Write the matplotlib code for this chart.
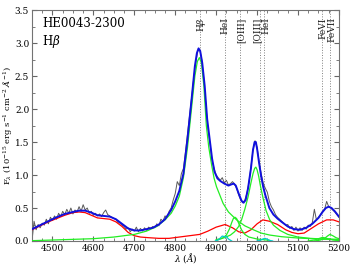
import numpy as np
import matplotlib
matplotlib.use('Agg')
import matplotlib.pyplot as plt
from matplotlib.ticker import MultipleLocator

plt.rcParams['font.family'] = ['DejaVu Serif']
plt.rcParams['mathtext.fontset'] = 'dejavuserif'

# observed spectrum (5 A sampling)
obs_wave = np.arange(4450, 5201, 5)
obs_flux = [
    0.00, 0.30, 0.17, 0.25, 0.20, 0.27, 0.24, 0.33, 0.26, 0.36,
    0.31, 0.38, 0.33, 0.42, 0.37, 0.45, 0.40, 0.48, 0.42, 0.50,
    0.41, 0.47, 0.44, 0.52, 0.45, 0.55, 0.47, 0.50, 0.42, 0.45,
    0.39, 0.42, 0.38, 0.41, 0.37, 0.43, 0.47, 0.40, 0.38, 0.36,
    0.34, 0.33, 0.28, 0.27, 0.24, 0.22, 0.18, 0.20, 0.14, 0.18,
    0.15, 0.21, 0.14, 0.19, 0.15, 0.20, 0.16, 0.21, 0.19, 0.22,
    0.20, 0.26, 0.23, 0.33, 0.30, 0.38, 0.36, 0.45, 0.50, 0.62,
    0.72, 0.90, 0.84, 1.02, 1.10, 1.35, 1.62, 1.90, 2.18, 2.45,
    2.70, 2.88, 2.90, 2.74, 2.45, 2.05, 1.70, 1.48, 1.22, 1.10,
    1.00, 0.96, 0.92, 0.96, 0.88, 0.92, 0.85, 0.87, 0.90, 0.86,
    0.80, 0.70, 0.62, 0.58, 0.62, 0.72, 0.88, 1.12, 1.38, 1.52,
    1.42, 1.20, 1.02, 0.88, 0.80, 0.74, 0.60, 0.52, 0.47, 0.40,
    0.36, 0.33, 0.30, 0.27, 0.24, 0.25, 0.19, 0.22, 0.16, 0.21,
    0.15, 0.20, 0.16, 0.21, 0.18, 0.24, 0.22, 0.28, 0.48, 0.32,
    0.36, 0.40, 0.45, 0.48, 0.60, 0.52, 0.50, 0.47, 0.44, 0.40,
    0.36,
]

# total model
fit_wave = [4450, 4470, 4490, 4510, 4530, 4550, 4565, 4580, 4595, 4610,
            4625, 4640, 4655, 4670, 4685, 4700, 4715, 4730, 4745, 4760,
            4775, 4790, 4800, 4810, 4820, 4830, 4840, 4848, 4853, 4857,
            4861, 4866, 4872, 4878, 4884, 4890, 4896, 4903, 4910, 4920,
            4930, 4938, 4943, 4948, 4955, 4962, 4967, 4972, 4978, 4985,
            4990, 4994, 4997, 5000, 5005, 5010, 5015, 5020, 5030, 5040,
            5050, 5060, 5075, 5090, 5105, 5120, 5135, 5150, 5160, 5168,
            5175, 5182, 5190, 5200]
fit_flux = [0.18, 0.24, 0.30, 0.36, 0.41, 0.44, 0.46, 0.46, 0.43, 0.39,
            0.38, 0.37, 0.33, 0.26, 0.19, 0.16, 0.16, 0.18, 0.20, 0.25,
            0.33, 0.47, 0.60, 0.76, 1.02, 1.55, 2.15, 2.65, 2.85, 2.92,
            2.88, 2.70, 2.35, 1.85, 1.55, 1.25, 1.05, 0.95, 0.91, 0.87,
            0.84, 0.86, 0.87, 0.84, 0.72, 0.61, 0.58, 0.62, 0.80, 1.10,
            1.38, 1.50, 1.50, 1.40, 1.18, 0.98, 0.82, 0.70, 0.50, 0.40,
            0.34, 0.29, 0.22, 0.18, 0.17, 0.20, 0.26, 0.35, 0.44, 0.50,
            0.52, 0.50, 0.45, 0.37]

# FeII template
fe_wave = [4450, 4470, 4490, 4510, 4530, 4550, 4565, 4580, 4595, 4610,
           4625, 4640, 4655, 4670, 4685, 4700, 4715, 4735, 4760, 4785,
           4810, 4835, 4860, 4880, 4900, 4922, 4940, 4955, 4970, 4985,
           5000, 5014, 5030, 5050, 5070, 5085, 5100, 5115, 5130, 5150,
           5170, 5186, 5200]
fe_flux = [0.17, 0.23, 0.29, 0.34, 0.39, 0.43, 0.44, 0.43, 0.39, 0.35,
           0.34, 0.33, 0.29, 0.22, 0.13, 0.08, 0.06, 0.05, 0.04, 0.04,
           0.06, 0.08, 0.10, 0.15, 0.21, 0.25, 0.20, 0.14, 0.12, 0.17,
           0.26, 0.32, 0.30, 0.25, 0.17, 0.13, 0.11, 0.12, 0.18, 0.26,
           0.32, 0.32, 0.29]

# broad Hbeta
hb_wave = [4450, 4500, 4550, 4600, 4650, 4700, 4730, 4755, 4775, 4790,
           4800, 4810, 4820, 4830, 4840, 4848, 4854, 4859, 4864, 4870,
           4876, 4882, 4889, 4895, 4901, 4910, 4917, 4930, 4950, 4970,
           4991, 5010, 5031, 5060, 5100, 5150, 5200]
hb_flux = [0.005, 0.015, 0.025, 0.035, 0.06, 0.10, 0.15, 0.22, 0.32, 0.42,
           0.53, 0.68, 0.96, 1.42, 2.02, 2.50, 2.72, 2.78, 2.70, 2.35,
           1.75, 1.42, 1.15, 0.95, 0.82, 0.68, 0.57, 0.44, 0.32, 0.23,
           0.17, 0.12, 0.09, 0.065, 0.045, 0.03, 0.025]

# [OIII] 5007
o3b_wave = [4900, 4920, 4935, 4945, 4955, 4962, 4970, 4978, 4985, 4990,
            4994, 4997, 5000, 5004, 5008, 5015, 5022, 5031, 5040, 5056,
            5075, 5100, 5130, 5160, 5200]
o3b_flux = [0.02, 0.05, 0.09, 0.14, 0.22, 0.32, 0.48, 0.67, 0.88, 1.02,
            1.10, 1.12, 1.08, 0.98, 0.84, 0.64, 0.46, 0.32, 0.24, 0.16,
            0.10, 0.06, 0.04, 0.03, 0.02]

# [OIII] 4959
o3a_wave = [4900, 4915, 4925, 4933, 4938, 4942, 4946, 4950, 4955, 4962,
            4970, 4980, 5000, 5030]
o3a_flux = [0.01, 0.04, 0.09, 0.19, 0.28, 0.34, 0.36, 0.34, 0.27, 0.17,
            0.10, 0.06, 0.03, 0.01]

# FeVI / FeVII components
fe6_wave = [5125, 5140, 5150, 5160, 5170, 5185, 5200]
fe6_flux = [0.0, 0.015, 0.035, 0.055, 0.04, 0.015, 0.005]
fe7_wave = [5140, 5155, 5165, 5172, 5178, 5185, 5193, 5200]
fe7_flux = [0.0, 0.015, 0.04, 0.075, 0.10, 0.08, 0.05, 0.035]

# HeI components
he1_wave = [4898, 4906, 4911, 4915, 4918, 4921, 4925, 4930, 4938]
he1_flux = [0.0, 0.02, 0.05, 0.075, 0.07, 0.06, 0.07, 0.03, 0.0]
he2_wave = [5000, 5008, 5014, 5019, 5024, 5030, 5038]
he2_flux = [0.0, 0.01, 0.03, 0.04, 0.03, 0.01, 0.0]

# marked lines
line_wave = [4861, 4922, 4959, 5007, 5016, 5159, 5177]
line_names = [r'H$\beta$', 'HeI', '[OIII]', '[OIII]', 'HeI', 'FeVI', 'FeVII']
label_shift = [2, 0, 2, -6, 6, 2, 6]

fig = plt.figure(figsize=(3.54, 2.66), dpi=100)
ax = fig.add_axes([0.0904, 0.094, 0.867, 0.868])

for w, name, dx in zip(line_wave, line_names, label_shift):
    ax.axvline(w, color='0.5', ls=':', lw=0.7, zorder=1)
    ax.text(w + dx, 3.39, name, rotation=90, ha='center', va='top',
            fontsize=6.5, color='0.1')

ax.plot(obs_wave, obs_flux, color='0.35', lw=0.7, zorder=2)
ax.plot(fe_wave, fe_flux, color='red', lw=0.9, zorder=3)
ax.plot(hb_wave, hb_flux, color='#22ee22', lw=0.9, zorder=3)
ax.plot(o3b_wave, o3b_flux, color='#22ee22', lw=0.9, zorder=3)
ax.plot(o3a_wave, o3a_flux, color='#22ee22', lw=0.9, zorder=3)
ax.plot(fe6_wave, fe6_flux, color='#22ee22', lw=0.9, zorder=3)
ax.plot(fe7_wave, fe7_flux, color='#22ee22', lw=0.9, zorder=3)
ax.plot(he1_wave, he1_flux, color='#00cccc', lw=0.9, zorder=3)
ax.plot(he2_wave, he2_flux, color='#00cccc', lw=0.9, zorder=3)
ax.plot(fit_wave, fit_flux, color='#1010dd', lw=1.4, zorder=4)

ax.set_xlim(4450, 5200)
ax.set_ylim(0, 3.5)
ax.xaxis.set_major_locator(MultipleLocator(100))
ax.xaxis.set_minor_locator(MultipleLocator(25))
ax.yaxis.set_major_locator(MultipleLocator(0.5))
ax.yaxis.set_minor_locator(MultipleLocator(0.25))
ax.tick_params(which='both', direction='in', top=True, right=True,
               color='0.4', labelsize=6.5, pad=2)
ax.tick_params(which='major', length=3.5)
ax.tick_params(which='minor', length=2)
for s in ax.spines.values():
    s.set_color('0.45')
    s.set_linewidth(0.8)

ax.text(0.033, 0.94, 'HE0043-2300', transform=ax.transAxes,
        fontsize=8.5, va='center')
ax.text(0.033, 0.862, r'H$\beta$', transform=ax.transAxes,
        fontsize=8.5, va='center')

ax.set_xlabel(r'$\lambda$ ($\AA$)', fontsize=6.5)
ax.set_ylabel(r'F$_\lambda$ (10$^{-15}$ erg s$^{-1}$ cm$^{-2}$ $\AA^{-1}$)',
              fontsize=6)
ax.xaxis.set_label_coords(0.5, -0.045)
ax.yaxis.set_label_coords(-0.058, 0.5)

fig.savefig('out.png', dpi=100)
